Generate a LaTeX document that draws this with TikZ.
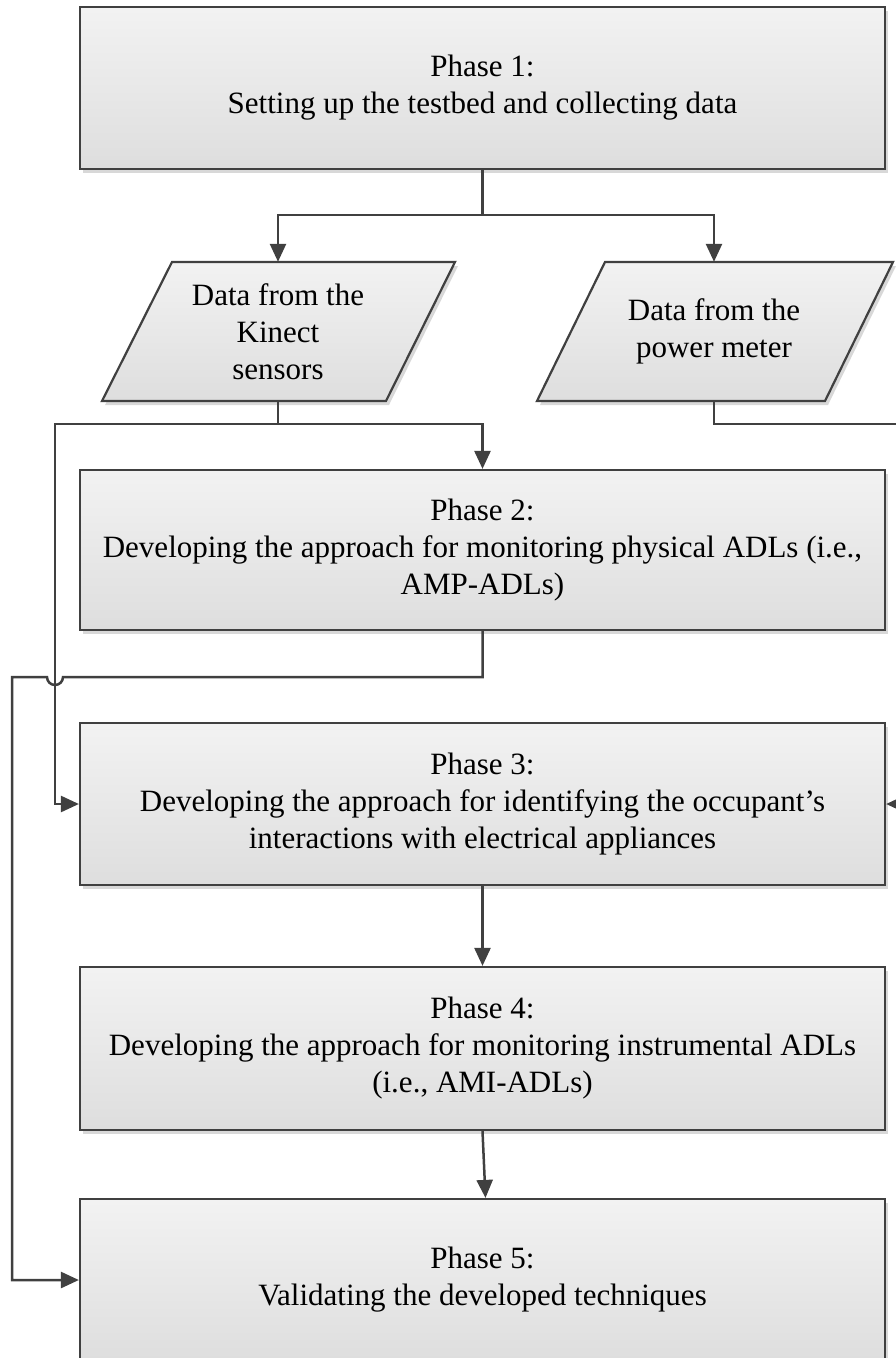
\documentclass[tikz,border=0pt]{standalone}
\usepackage{fontspec}
\setmainfont{Liberation Serif}
\usetikzlibrary{shadows,arrows.meta}
\definecolor{ln}{HTML}{404040}
\begin{document}
\begin{tikzpicture}[x=1pt,y=-1pt,
  shade/.style={top color=black!5, bottom color=black!13, drop shadow={shadow xshift=3pt,shadow yshift=-4pt,fill=black!30,opacity=.5}},
  box/.style={draw=ln, line width=2.2pt, shade, minimum width=805pt, minimum height=162pt, inner sep=0pt},
  txt/.style={align=center, font=\fontsize{31}{37}\selectfont, inner sep=0pt},
  conn/.style={draw=ln, line width=2.5pt},
  arr/.style={conn, -{Triangle[length=18pt,width=16pt]}}]
\useasboundingbox (0,0) rectangle (896,1358);
% boxes
\node[box] (b1) at (482.5,88) {};
\node[txt] (t1) at (b1) {Phase 1:\\Setting up the testbed and collecting data};
\node[box, minimum height=160pt] (b2) at (482.5,550) {};
\node[txt] (t2) at (b2) {Phase 2:\\Developing the approach for monitoring physical ADLs (i.e.,\\AMP-ADLs)};
\node[box] (b3) at (482.5,804) {};
\node[txt] (t3) at (b3) {Phase 3:\\Developing the approach for identifying the occupant's\\interactions with electrical appliances};
\node[box, minimum height=163pt] (b4) at (482.5,1048.5) {};
\node[txt] (t4) at (b4) {Phase 4:\\Developing the approach for monitoring instrumental ADLs\\(i.e., AMI-ADLs)};
\node[box] (b5) at (482.5,1280) {};
\node[txt] (t5) at (b5) {Phase 5:\\Validating the developed techniques};
% parallelograms
\draw[draw=ln, line width=2.2pt, shade] (172,262) -- (455,262) -- (386,401) -- (102,401) -- cycle;
\node[minimum width=200pt, minimum height=139pt, inner sep=0pt] (k) at (278,331.5) {};
\node[txt] (kt) at (k) {Data from the\\Kinect\\sensors};
\draw[draw=ln, line width=2.2pt, shade] (605,262) -- (893,262) -- (825,401) -- (537,401) -- cycle;
\node[minimum width=200pt, minimum height=139pt, inner sep=0pt] (p) at (714,331.5) {};
\node[txt] (pt) at (p) {Data from the\\power meter};
% connectors
\draw[conn] (b1.south) -- (482.5,215) coordinate (s1);
\draw[arr] (s1) -| (k.north);
\draw[arr] (s1) -| (p.north);
\draw[conn] (k.south) -- (278,424) coordinate (s2);
\draw[arr] (s2) -| (b2.north);
\draw[arr] (s2) -| (55,804) -- (b3.west);
\coordinate (r1) at (904,424);
\draw[arr] (p.south) |- (r1) |- (b3.east);
\draw[arr] (b2.south) |- (63,677) arc[start angle=0, end angle=-180, radius=8pt] -- (12,677) |- (b5.west);
\draw[arr] (b3.south) -- (b4.north);
\draw[arr] (b4.south) -- ([xshift=3pt]b5.north);
\end{tikzpicture}
\end{document}
